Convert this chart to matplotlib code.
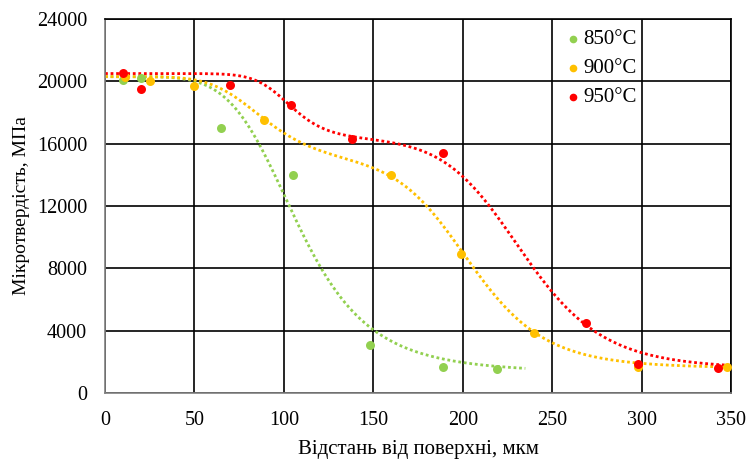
import numpy as np
import matplotlib.pyplot as plt

# measured points
x_850 = [10, 20, 65, 105, 148, 189, 219]
y_850 = [20100, 20200, 17000, 14000, 3100, 1650, 1550]
x_900 = [11, 25, 50, 89, 160, 199, 240, 298, 348]
y_900 = [20300, 20050, 19700, 17500, 14000, 8900, 3850, 1650, 1650]
x_950 = [10, 20, 70, 104, 138, 189, 269, 298, 343]
y_950 = [20550, 19500, 19750, 18500, 16300, 15400, 4500, 1850, 1600]

labels = ["850°C", "900°C", "950°C"]
colors = ["#92D050", "#FFC000", "#FF0000"]

# trend curves: base + sum of log-logistic steps (amplitude, midpoint, steepness)
trend_850 = dict(base=1300, steps=[(19000, 108, 5.4)], xmax=235)
trend_900 = dict(base=1600, steps=[(5600, 90, 5.6), (13100, 205, 9.9)], xmax=350)
trend_950 = dict(base=1550, steps=[(4200, 104, 10.2), (14750, 234, 10.4)], xmax=350)


def trend(p):
    xs = np.linspace(0.01, p["xmax"], 400)
    ys = np.full_like(xs, p["base"], dtype=float)
    for a, m, k in p["steps"]:
        ys += a / (1 + (xs / m) ** k)
    return xs, ys


plt.rcParams['font.family'] = ['Liberation Serif', 'DejaVu Serif']

fig = plt.figure(figsize=(7.47, 4.59), dpi=100)
ax = fig.add_axes([0.1406, 0.1438, 0.838, 0.8148])

series = [(x_850, y_850, trend_850), (x_900, y_900, trend_900), (x_950, y_950, trend_950)]
for (xs, ys, tp), lab, c in zip(series, labels, colors):
    tx, ty = trend(tp)
    ax.plot(tx, ty, color=c, lw=2, ls=(0, (1, 1)), zorder=2)
    ax.scatter(xs, ys, s=42, color=c, label=lab, zorder=3, linewidths=0)

ax.set_xlim(0, 350)
ax.set_ylim(0, 24000)
ax.set_xticks(np.arange(0, 351, 50))
ax.set_yticks(np.arange(0, 24001, 4000))
ax.grid(True, color='black', lw=1.2)
ax.tick_params(length=0, labelsize=14.5)
ax.tick_params(axis='y', pad=13)
ax.tick_params(axis='x', pad=13)
for s in ax.spines.values():
    s.set_color('#000000')
    s.set_linewidth(1.2)
ax.spines['left'].set_color('#808080')
ax.spines['bottom'].set_color('#808080')

ax.set_xlabel("Відстань від поверхні, мкм", fontsize=15, labelpad=7)
ax.set_ylabel("Мікротвердість, МПа", fontsize=14, labelpad=5)

ax.legend(loc='upper left', bbox_to_anchor=(0.717, 0.994), frameon=False,
          fontsize=15, handletextpad=0.0, handlelength=1.0, markerscale=0.85,
          labelspacing=0.45, borderaxespad=0.0)

fig.savefig("out.png", dpi=100)
plt.close(fig)
